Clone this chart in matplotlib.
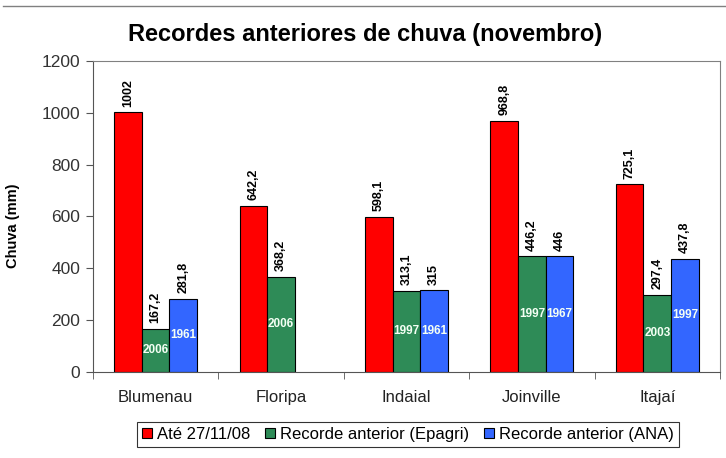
import numpy as np
import matplotlib
matplotlib.use('Agg')
import matplotlib.pyplot as plt

plt.rcParams['font.family'] = ['Liberation Sans', 'DejaVu Sans']

# data
cities = ['Blumenau', 'Floripa', 'Indaial', 'Joinville', 'Itajaí']
ate_2711 = [1002, 642.2, 598.1, 968.8, 725.1]
rec_epagri = [167.2, 368.2, 313.1, 446.2, 297.4]
rec_ana = [281.8, np.nan, 315, 446, 437.8]
ano_epagri = ['2006', '2006', '1997', '1997', '2003']
ano_ana = ['1961', '', '1961', '1967', '1997']
series_names = ['Até 27/11/08', 'Recorde anterior (Epagri)', 'Recorde anterior (ANA)']
y_ticks = [0, 200, 400, 600, 800, 1000, 1200]


def fmt(v):
    # comma decimal, drop trailing ,0
    s = ('%.1f' % v).replace('.', ',')
    if s.endswith(',0'):
        s = s[:-2]
    return s


fig = plt.figure(figsize=(7.26, 4.58), dpi=100)
ax = fig.add_axes([0.128, 0.1878, 0.8637, 0.679])

x = np.arange(len(cities))
w = 0.22
colors = ['#ff0000', '#2e8b57', '#3366ff']

b1 = ax.bar(x - w, ate_2711, w, color=colors[0], edgecolor='black', linewidth=0.8)
b2 = ax.bar(x, rec_epagri, w, color=colors[1], edgecolor='black', linewidth=0.8)
b3 = ax.bar(x + w, rec_ana, w, color=colors[2], edgecolor='black', linewidth=0.8)

for bars, vals in [(b1, ate_2711), (b2, rec_epagri), (b3, rec_ana)]:
    for rect, v in zip(bars, vals):
        if np.isnan(v):
            continue
        ax.annotate(fmt(v), (rect.get_x() + rect.get_width() / 2, v),
                    xytext=(0, 4), textcoords='offset points',
                    rotation=90, ha='center', va='bottom',
                    fontsize=9, fontweight='bold')

for bars, vals, yrs in [(b2, rec_epagri, ano_epagri), (b3, rec_ana, ano_ana)]:
    for rect, v, yr in zip(bars, vals, yrs):
        if np.isnan(v) or not yr:
            continue
        ax.text(rect.get_x() + rect.get_width() / 2, v / 2, yr,
                ha='center', va='center', color='#f4fff4',
                fontsize=8.5, fontweight='bold')

ax.set_xlim(-0.5, len(cities) - 0.5)
ax.set_ylim(0, 1200)
ax.set_yticks(y_ticks)
ax.set_yticklabels([str(t) for t in y_ticks], fontsize=12.5, color='#333333')
ax.set_xticks(x)
ax.set_xticklabels(cities, fontsize=12, color='#222222')
ax.tick_params(axis='x', length=0, pad=13)
ax.set_xticks(np.arange(-0.5, len(cities), 1), minor=True)
ax.tick_params(axis='x', which='minor', length=5, direction='out', color='#555555')
ax.tick_params(axis='y', length=5, direction='out', color='#555555', pad=4)

for side in ['left', 'bottom']:
    ax.spines[side].set_color('#555555')
for side in ['top', 'right']:
    ax.spines[side].set_color('#808080')

ax.set_ylabel('Chuva (mm)', fontsize=10.5, fontweight='bold')
ax.yaxis.set_label_coords(-0.117, 0.47)

fig.text(0.503, 0.925, 'Recordes anteriores de chuva (novembro)',
         ha='center', va='center', fontsize=17, fontweight='bold')

leg = fig.legend([b1, b2, b3], series_names, loc='center',
                 bbox_to_anchor=(0.562, 0.052), ncol=3, fontsize=12,
                 frameon=True, fancybox=False, edgecolor='black',
                 handlelength=0.6, handleheight=0.6, handletextpad=0.3,
                 columnspacing=0.9, borderpad=0.3, borderaxespad=0)
leg.get_frame().set_linewidth(0.8)

# thin frame line along the top of the chart area
fig.add_artist(plt.Line2D([0.004, 1.0], [0.987, 0.987], color='#808080', linewidth=1))

fig.savefig('out.png', dpi=100)
